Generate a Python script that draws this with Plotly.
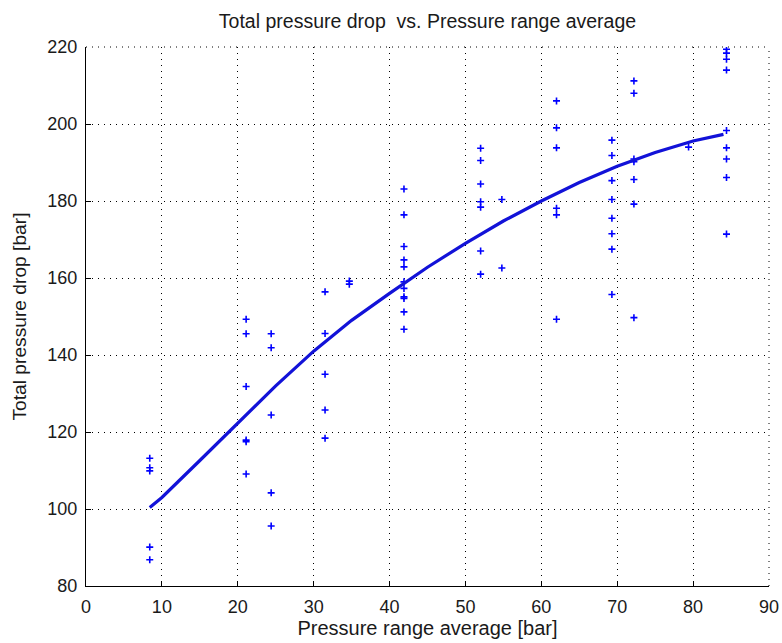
import plotly.graph_objects as go

# Measured points (x = pressure range average [bar], y = total pressure drop [bar])
meas_x = ([8.4] * 5 + [21.1] * 6 + [24.4] * 5 + [31.5] * 5 + [34.7] * 2 +
          [41.9] * 11 + [52.0] * 7 + [54.8] * 2 + [62.0] * 6 + [69.3] * 8 +
          [72.2] * 7 + [79.4] + [84.4] * 9)
meas_y = ([113.2, 110.7, 109.9, 90.1, 86.8] +
          [149.3, 145.5, 131.8, 117.9, 117.5, 109.1] +
          [145.5, 141.9, 124.4, 104.2, 95.6] +
          [156.4, 145.6, 135.0, 125.7, 118.4] +
          [159.2, 158.4] +
          [183.1, 176.4, 168.2, 164.7, 162.9, 159.0, 157.3, 155.1, 154.7, 151.2, 146.7] +
          [193.7, 190.5, 184.4, 179.8, 178.4, 167.0, 161.0] +
          [180.4, 162.6] +
          [206.0, 199.0, 193.8, 178.1, 176.4, 149.3] +
          [195.8, 191.8, 185.3, 180.4, 175.5, 171.5, 167.5, 155.7] +
          [211.2, 208.0, 190.9, 190.2, 185.6, 179.2, 149.7] +
          [194.0] +
          [219.4, 218.4, 216.8, 214.0, 198.3, 193.8, 190.9, 186.1, 171.4])

# Fitted curve
fit_x = [8.4, 10, 15, 20, 25, 30, 35, 40, 45, 50, 55, 60, 65, 70, 75, 80, 84]
fit_y = [100.4, 103.0, 112.6, 122.4, 132.0, 141.0, 149.0, 156.0, 162.8, 169.0,
         174.8, 180.0, 184.8, 189.0, 192.6, 195.6, 197.3]

x_ticks = [0, 10, 20, 30, 40, 50, 60, 70, 80, 90]
y_ticks = [80, 100, 120, 140, 160, 180, 200, 220]

FONT = "Liberation Sans, Arial, sans-serif"
FS = 18
TXT = "#1a1a1a"
BLUE = "#0000ff"
DOT = "1px,5px"

fig = go.Figure()
fig.add_trace(go.Scatter(x=meas_x, y=meas_y, mode="markers",
                         marker=dict(symbol="cross-thin", size=5, color=BLUE,
                                     line=dict(color=BLUE, width=1.6)),
                         showlegend=False))
fig.add_trace(go.Scatter(x=fit_x, y=fit_y, mode="lines",
                         line=dict(color="#1212d8", width=3.2),
                         showlegend=False))

axis_common = dict(showline=True, linecolor="black", linewidth=1.2,
                   ticks="inside", ticklen=5, tickcolor="black",
                   showgrid=True, gridcolor="black", gridwidth=1,
                   griddash=DOT, zeroline=False, automargin=False,
                   tickfont=dict(family=FONT, size=FS, color=TXT))

# dotted frame on the top and right edges (as in the reference)
fig.add_shape(type="line", xref="paper", yref="paper", x0=0, x1=1, y0=1, y1=1,
              line=dict(color="black", width=1, dash=DOT), layer="below")
fig.add_shape(type="line", xref="paper", yref="paper", x0=1, x1=1, y0=0, y1=1,
              line=dict(color="black", width=1, dash=DOT), layer="below")

fig.update_layout(
    width=782, height=643,
    margin=dict(l=86, r=13, t=47, b=57),
    paper_bgcolor="white", plot_bgcolor="white",
    title=dict(text="Total pressure drop  vs. Pressure range average",
               x=0.5, xanchor="center", xref="paper",
               y=1 - 21 / 643, yanchor="middle", yref="container",
               font=dict(family=FONT, size=19.5, color=TXT)),
    xaxis=dict(range=[0, 90], tickvals=x_ticks, ticktext=[str(v) for v in x_ticks],
               ticklabelstandoff=4,
               title=dict(text="Pressure range average [bar]", standoff=3,
                          font=dict(family=FONT, size=20, color=TXT)),
               **axis_common),
    yaxis=dict(range=[80, 220], tickvals=y_ticks, ticktext=[str(v) for v in y_ticks],
               ticklabelstandoff=4,
               title=dict(text="Total pressure drop [bar]", standoff=15,
                          font=dict(family=FONT, size=19.2, color=TXT)),
               **axis_common),
)

fig.write_html("out.html", config={"displayModeBar": False},
               post_script="document.body.style.margin='0';"
                           "document.body.style.overflow='hidden';")
